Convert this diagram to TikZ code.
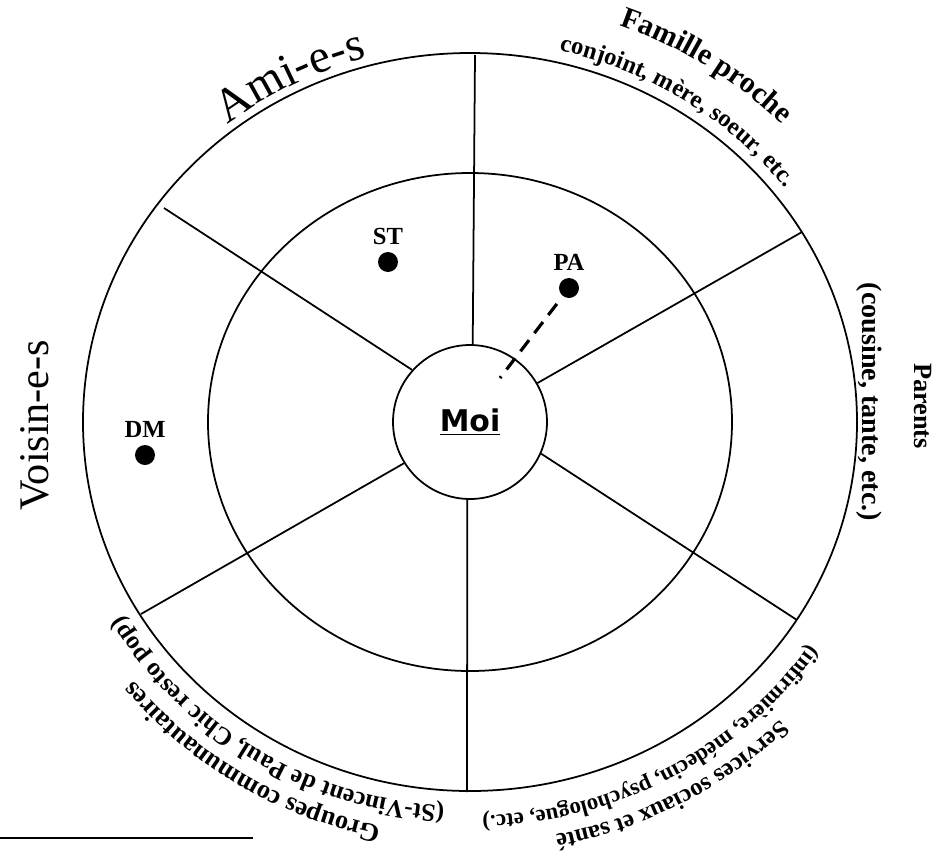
\documentclass[tikz,border=0pt]{standalone}
\usepackage{fontspec}
\setmainfont{Liberation Serif}
\newfontfamily\moifont{DejaVu Sans}
\usetikzlibrary{positioning, decorations.text}

% texte courbe le long du grand cercle: angle milieu, ecart, police, texte
\newcommand{\courbe}[4]{%
    \path[decorate, decoration={text along path, text align=center,
        text={|#3|#4}}]
        ({(387+#2)*cos(#1+45)}, {(369+#2)*sin(#1+45)})
        arc[start angle=#1+45, end angle=#1-45, x radius=387+#2, y radius=369+#2];
}

\begin{document}
\begin{tikzpicture}[x=0.02cm, y=0.02cm,
    cercle/.style={line width=1pt},
    rayon/.style={line width=1pt},
    pastille/.style={circle, fill, inner sep=0pt, minimum size=0.4cm},
    etiq/.style={font=\fontsize{14}{16}\selectfont\bfseries, inner sep=1pt},
    lien/.style={dash pattern=on 8pt off 5pt, line width=1.8pt, shorten <=5.5pt}]
    \useasboundingbox (-470,-431) rectangle (465,422);

    \draw[cercle] (0,0) ellipse [x radius=387, y radius=369];
    \draw[cercle] (0,0) ellipse [x radius=262, y radius=249];
    \node[draw, circle, cercle, minimum size=3.08cm, inner sep=0pt] (moi) at (0,0)
        {\moifont\fontsize{17}{20}\selectfont\bfseries\underline{Moi}};

    % bouts des rayons sur le grand cercle
    \foreach \nom/\x/\y in {bh/5/367, bhd/332/190, bbd/327/-198, bb/-3/-370, bbg/-329/-192, bhg/-306/214}
        \coordinate (\nom) at (\x,\y);
    \foreach \a/\nom in {88/bh, 30/bhd, -24/bbd, -92/bb, -148/bbg, 138/bhg}
        \draw[rayon] (moi.\a) -- (\nom);

    \node[pastille] (st) at (-82,160) {};
    \node[pastille] (pa) at (99,134) {};
    \node[pastille] (dm) at (-325,-33) {};
    \node[etiq, above=3pt of st] (stnom) {ST};
    \node[etiq, above=3pt of pa] (panom) {PA};
    \node[etiq, above=3pt of dm] (dmnom) {DM};

    \coordinate (bout) at (30,44);
    \draw[lien] (pa) -- (bout);

    % titres des secteurs
    \courbe{117}{8}{\fontsize{27}{27}\selectfont}{Ami-e-s}
    \courbe{57}{53}{\fontsize{17}{17}\selectfont\bfseries}{Famille proche}
    \courbe{57}{12}{\fontsize{14}{14}\selectfont\bfseries}{conjoint, mère, soeur, etc.}
    \courbe{-61.5}{52}{\fontsize{14}{14}\selectfont\bfseries}{Services sociaux et santé}
    \courbe{-61}{25}{\fontsize{13}{13}\selectfont\bfseries}{(infirmière, médecin, psychologue, etc.)}
    \courbe{-122}{44}{\fontsize{15}{15}\selectfont\bfseries}{Groupes communautaires}
    \courbe{-122}{16}{\fontsize{14.4}{14.4}\selectfont\bfseries}{(St-Vincent de Paul, Chic resto pop)}

    \node[rotate=90, font=\fontsize{24}{24}\selectfont] (voisins) at (-435,-3) {Voisin-e-s};
    \node[rotate=-90, font=\fontsize{15}{15}\selectfont\bfseries] (parents) at (453,16) {Parents};
    \node[rotate=-90, font=\fontsize{16}{16}\selectfont\bfseries] (cousins) at (399,20) {(cousine, tante, etc.)};

    \coordinate (notea) at (-470,-416);
    \coordinate (noteb) at (-217,-416);
    \draw[line width=0.8pt] (notea) -- (noteb);
\end{tikzpicture}
\end{document}
